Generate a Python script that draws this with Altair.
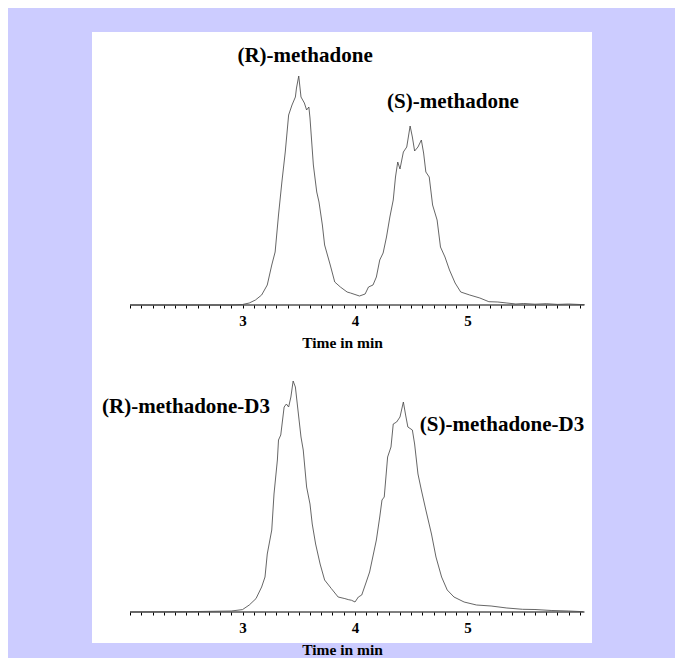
import altair as alt
import pandas as pd

# ---- data (time in min, relative intensity) ----
t_top = [2.00, 2.50, 2.90, 3.00, 3.06, 3.115, 3.17, 3.22, 3.26, 3.29, 3.32, 3.35, 3.38, 3.41,
         3.44, 3.47, 3.48, 3.50, 3.52, 3.55, 3.57, 3.59, 3.60, 3.63, 3.66, 3.68, 3.71, 3.73,
         3.78, 3.82, 3.87, 3.93, 3.96, 4.00, 4.04, 4.09, 4.12, 4.16, 4.19, 4.22, 4.25, 4.28,
         4.31, 4.34, 4.36, 4.38, 4.40, 4.43, 4.46, 4.49, 4.51, 4.53, 4.56, 4.59, 4.61, 4.63,
         4.66, 4.69, 4.73, 4.76, 4.80, 4.84, 4.89, 4.94, 5.02, 5.11, 5.19, 5.27, 5.35, 5.43,
         5.50, 5.60, 5.70, 5.80, 5.90, 6.00, 6.04]
i_top = [0, 0, 0, 0.5, 2, 5, 10, 20, 40, 53, 90, 123, 153, 190,
         200, 208, 217, 229, 208, 202, 195, 198, 187, 140, 113, 103, 80, 60,
         40, 23, 18, 13, 12, 10.5, 9, 11, 18, 20, 28, 45, 52, 68,
         88, 105, 128, 143, 136, 153, 158, 179, 168, 154, 158, 165, 152, 133,
         128, 100, 85, 58, 48, 35, 22, 13, 10, 7, 3.3, 3, 2, 1,
         1.5, 0.8, 1.3, 0.6, 1, 0.5, 0.5]

t_bot = [2.00, 2.50, 2.90, 3.00, 3.06, 3.12, 3.17, 3.20, 3.22, 3.26, 3.28, 3.31, 3.32, 3.34,
         3.37, 3.39, 3.41, 3.43, 3.45, 3.47, 3.49, 3.52, 3.54, 3.57, 3.60, 3.62, 3.65, 3.69,
         3.73, 3.79, 3.85, 3.91, 3.94, 3.97, 4.00, 4.03, 4.06, 4.10, 4.13, 4.19, 4.22, 4.24,
         4.26, 4.29, 4.32, 4.34, 4.37, 4.40, 4.43, 4.45, 4.47, 4.51, 4.53, 4.56, 4.59, 4.63,
         4.68, 4.72, 4.77, 4.82, 4.88, 4.97, 5.08, 5.21, 5.35, 5.49, 5.60, 5.75, 5.90, 6.03]
i_bot = [0, 0.3, 1, 2.4, 7, 13.4, 25, 35, 58, 82, 118, 152, 172, 177,
         205, 208, 205, 215, 231, 225, 205, 175, 162, 125, 108, 88, 68, 48,
         32, 23.4, 15, 13.4, 12.4, 11.7, 10, 15, 17, 30, 40, 72, 95, 112,
         115, 155, 165, 188, 190, 195, 210, 197, 185, 182, 168, 138, 122, 102,
         78, 55, 35, 22, 15, 10, 7, 6, 4, 2.7, 2.5, 1.5, 1, 0.3]

top_labels = ["(R)-methadone", "(S)-methadone"]
top_label_t = [3.556, 4.871]
top_label_i = [249, 203]

bot_labels = ["(R)-methadone-D3", "(S)-methadone-D3"]
bot_label_t = [2.498, 5.307]
bot_label_i = [205, 187]

tick_values = [round(2.0 + 0.1 * k, 1) for k in range(41)]
axis_start, axis_end = 2.0, 6.04

XDOM = [1.662, 6.107]
SERIF = "Liberation Serif"


def panel(t, inten, lab, lab_t, lab_i, ydom, height, offset):
    xscale = alt.Scale(domain=XDOM, nice=False, zero=False)
    yscale = alt.Scale(domain=ydom, nice=False, zero=False)
    xaxis = alt.Axis(
        values=tick_values,
        labelExpr="(abs(datum.value - round(datum.value)) < 0.001 && datum.value >= 3 && datum.value <= 5) ? format(datum.value, 'd') : ''",
        domain=False, grid=False, offset=offset,
        tickSize=3, tickColor="black", tickWidth=1,
        labelFont=SERIF, labelFontWeight="bold", labelFontSize=15, labelColor="black",
        labelPadding=5, labelOverlap=False, labelFlush=False,
        title="Time in min", titleFont=SERIF, titleFontWeight="bold", titleFontSize=15.5,
        titleColor="black", titlePadding=7,
    )
    x = alt.X("t:Q", scale=xscale, axis=xaxis)
    y = alt.Y("i:Q", scale=yscale, axis=None)

    df = pd.DataFrame({"t": t, "i": inten})
    line = alt.Chart(df).mark_line(color="#4a4a4a", strokeWidth=0.85).encode(x=x, y=y)

    base_df = pd.DataFrame({"t": [axis_start], "t2": [axis_end], "i": [0]})
    rule = alt.Chart(base_df).mark_rule(color="black", strokeWidth=1).encode(
        x=x, x2="t2:Q", y=y)

    ldf = pd.DataFrame({"t": lab_t, "i": lab_i, "label": lab})
    text = alt.Chart(ldf).mark_text(
        font=SERIF, fontWeight="bold", fontSize=21, color="black",
        align="center", baseline="middle").encode(x=x, y=y, text="label:N")

    return alt.layer(rule, line, text).properties(width=500, height=height)


top = panel(t_top, i_top, top_labels, top_label_t, top_label_i, [-51, 273], 324, -51)
bot = panel(t_bot, i_bot, bot_labels, bot_label_t, bot_label_i, [-31, 256], 287, -31)

chart = alt.vconcat(top, bot, spacing=0).properties(
    background="#ccccff",
    padding={"left": 84, "top": 24, "right": 83, "bottom": 0},
).configure_view(fill="white", stroke=None).configure_concat(spacing=0)

chart.save("out.html", embed_options={"renderer": "svg", "actions": False})
